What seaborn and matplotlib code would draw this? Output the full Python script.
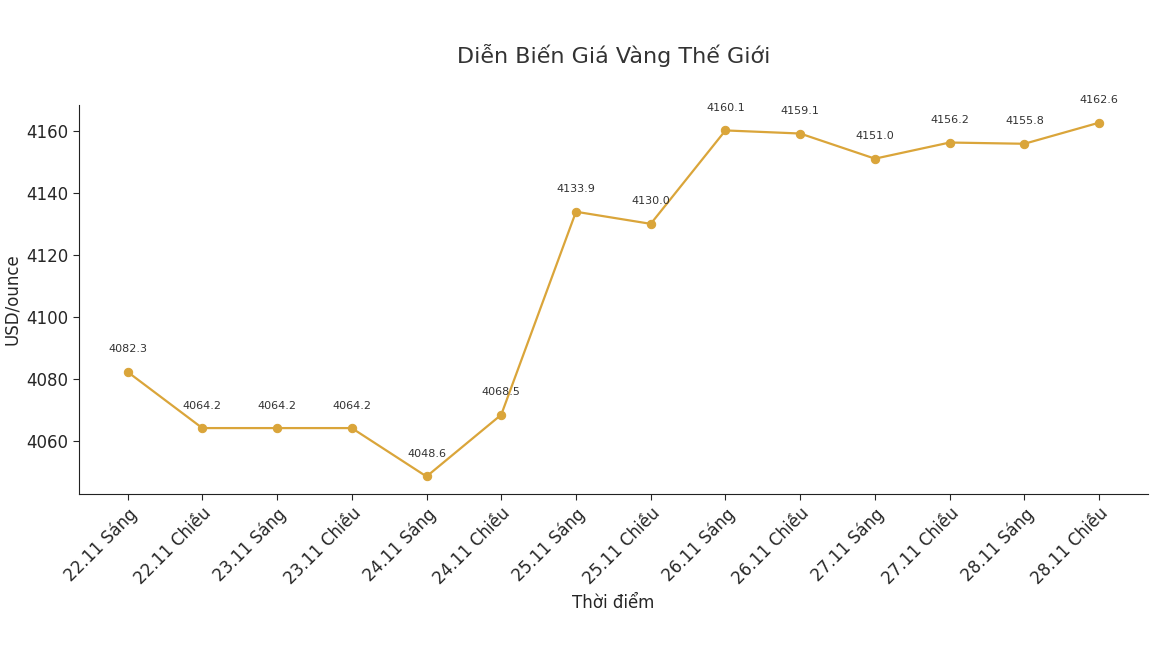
import matplotlib
matplotlib.use("Agg")
import matplotlib.pyplot as plt
import seaborn as sns
import pandas as pd

labels = ["22.11 Sáng", "22.11 Chiều", "23.11 Sáng", "23.11 Chiều", "24.11 Sáng", "24.11 Chiều",
          "25.11 Sáng", "25.11 Chiều", "26.11 Sáng", "26.11 Chiều", "27.11 Sáng", "27.11 Chiều",
          "28.11 Sáng", "28.11 Chiều"]
prices = [4082.3, 4064.2, 4064.2, 4064.2, 4048.6, 4068.5, 4133.9, 4130.0, 4160.1, 4159.1,
          4151.0, 4156.2, 4155.8, 4162.6]

sns.set_style("white")
plt.rcParams['font.family'] = ['DejaVu Sans']

df = pd.DataFrame({"x": range(len(labels)), "y": prices})
fig = plt.figure(figsize=(11.5, 6.46), dpi=100)
ax = fig.add_axes([0.0687, 0.235, 0.9293, 0.6025])
color = "#DAA53A"
sns.lineplot(data=df, x="x", y="y", ax=ax, color=color, marker="o", markersize=6,
             markeredgecolor=color, linewidth=1.6)
for i, v in enumerate(prices):
    ax.annotate(f"{v:.1f}", (i, v), xytext=(0, 14), textcoords="offset points",
                ha="center", fontsize=8, color="#333333")
ax.set_xticks(range(len(labels)))
ax.set_xticklabels(labels, rotation=45, ha="right", rotation_mode="anchor", fontsize=12)
ax.tick_params(axis="y", labelsize=12, left=True, length=4)
ax.tick_params(axis="x", bottom=True, length=4)
ax.set_xlabel("Thời điểm", fontsize=12)
ax.set_ylabel("USD/ounce", fontsize=12)
ax.set_title("Diễn Biến Giá Vàng Thế Giới", fontsize=16, pad=30, color="#333333")
sns.despine(ax=ax)
for s in ["left", "bottom"]:
    ax.spines[s].set_color("#222222")
fig.savefig("out.png", dpi=100)
